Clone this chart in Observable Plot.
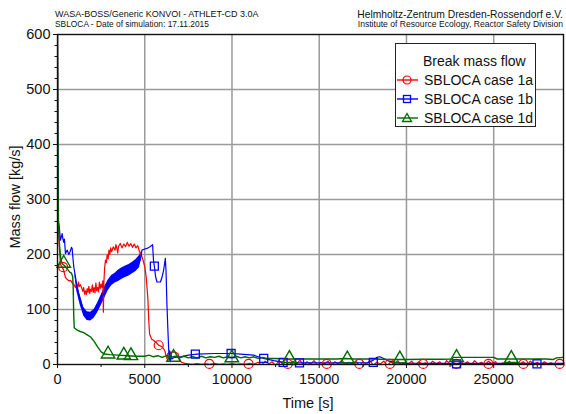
<!DOCTYPE html>
<html>
<head>
<meta charset="utf-8">
<script src="https://cdn.jsdelivr.net/npm/d3@7"></script>
<script src="https://cdn.jsdelivr.net/npm/@observablehq/plot@0.6"></script>
<style>
  body { margin: 0; background: #fff; }
  #wrap { position: relative; width: 566px; height: 414px; font-family: "Liberation Sans", Arial, sans-serif; color: #111; }
  .hdr { position: absolute; white-space: nowrap; line-height: 1; }
  #legend { position: absolute; left: 395px; top: 43px; width: 139px; height: 82px; border: 1.3px solid #222; background: #fff; font-size: 14px; }
  #legend .row { position: absolute; left: 0; height: 18px; white-space: nowrap; }
  #legend svg { position: absolute; left: 0; top: 0; }
  #legend span { position: absolute; left: 28px; top: 1px; }
</style>
</head>
<body>
<div id="wrap">
  <div class="hdr" style="left:55px; top:10px; font-size:9px;">WASA-BOSS/Generic KONVOI - ATHLET-CD 3.0A</div>
  <div class="hdr" style="left:55px; top:20px; font-size:8.4px;">SBLOCA - Date of simulation: 17.11.2015</div>
  <div class="hdr" style="right:3px; top:10px; font-size:10.3px;">Helmholtz-Zentrum Dresden-Rossendorf e.V.</div>
  <div class="hdr" style="right:3px; top:20px; font-size:8.6px;">Institute of Resource Ecology, Reactor Safety Division</div>
  <div id="chart"></div>
  <div class="hdr" id="xtitle" style="left:308px; top:396px; font-size:14.5px; transform:translateX(-50%);">Time [s]</div>
  <div class="hdr" id="ytitle" style="left:15px; top:197px; font-size:14.5px; transform:translate(-50%,-50%) rotate(-90deg);">Mass flow [kg/s]</div>
  <div id="legend"></div>
</div>
<script>
// ---------- data ----------
const seriesNames = ["SBLOCA case 1a", "SBLOCA case 1b", "SBLOCA case 1d"];
const seriesColors = ["#ff0000", "#0000ff", "#006a00"];
const legendTitle = "Break mass flow";

const xTicks = [0, 5000, 10000, 15000, 20000, 25000];
const xMinorTicks = [2500, 7500, 12500, 17500, 22500, 27500];
const yTicks = [0, 100, 200, 300, 400, 500, 600];
const yMinorTicks = [20,40,60,80,120,140,160,180,220,240,260,280,320,340,360,380,420,440,460,480,520,540,560,580];

// case 1a (red): [time s, mass flow kg/s]
const case1a = [
  [0,600],[20,420],[50,260],[100,215],[170,182],[250,178],[350,172],[455,158],[550,155],[650,152],[750,153],[850,148],[950,145],[1030,140],
  [1100,146],[1150,138],[1200,150],[1250,142],[1316,145],[1400,138],[1450,133],[1500,140],[1550,128],[1600,134],[1650,127],[1700,138],
  [1750,131],[1800,142],[1850,129],[1900,137],[1950,133],[2000,145],[2050,131],[2100,140],[2150,130],[2200,148],[2250,134],[2300,140],
  [2350,132],[2400,150],[2450,138],[2500,146],[2550,140],[2600,152],[2630,95],[2660,150],[2700,175],[2750,190],[2800,185],[2850,200],
  [2900,192],[2950,208],[3000,200],[3050,212],[3100,205],[3200,214],[3300,208],[3350,218],[3400,212],[3450,203],[3500,215],[3600,220],
  [3700,212],[3800,219],[3900,214],[4000,222],[4100,215],[4200,220],[4300,213],[4400,219],[4500,212],[4600,216],[4700,205],[4800,200],
  [4900,190],[5000,178],[5080,160],[5130,140],[5180,120],[5230,80],[5280,55],[5400,46],[5500,44],[5650,40],[5800,35],[5950,33],[6050,30],
  [6150,25],[6230,15],[6280,10],[6320,20],[6450,22],[6700,23],[6900,20],[7000,10],[7100,4],[7300,2],
  [7500,1],[7750,0.5],[8000,1.5],[8250,0.5],[8500,1],[8750,0.5],[9000,2],[9250,0.5],[9500,1],[9750,0.5],[10000,1.5],[10250,0.5],
  [10500,1],[10750,0.5],[11000,2],[11250,0.5],[11500,4],[11700,-1],[11900,6],[12100,1],[12300,5],[12500,-2],[12700,7],[12900,1],
  [13100,4],[13300,-1],[13500,6],[13700,1],[13900,8],[14100,-2],[14300,5],[14500,1],[14700,7],[14900,-1],[15100,4],[15300,1],
  [15500,6],[15700,-2],[15900,5],[16100,1],[16300,8],[16500,-1],[16700,4],[16900,1],[17100,6],[17300,-2],[17500,5],[17700,1],
  [17900,7],[18100,-1],[18300,4],[18500,1],[18700,6],[18900,-2],[19100,5],[19300,1],[19500,7],[19700,-1],[19900,4],[20100,1],
  [20300,6],[20500,-2],[20700,5],[20900,1],[21100,3],[21300,-1],[21500,6],[21700,1],[21900,5],[22100,-2],[22300,7],[22500,1],
  [22700,4],[22900,-1],[23100,6],[23300,1],[23500,5],[23700,-2],[23900,7],[24100,1],[24300,4],[24500,-1],[24700,6],[24900,1],
  [25100,5],[25300,-2],[25500,3],[25700,1],[25900,6],[26100,-1],[26300,4],[26500,1],[26700,5],[26900,-2],[27100,6],[27300,1],
  [27500,4],[27700,-1],[27900,5],[28100,1],[28300,3],[28500,-1],[28700,2],[29000,1]
];
// case 1b (blue)
const case1b = [
  [0,600],[20,400],[50,262],[100,250],[170,226],[270,238],[300,230],[360,222],[400,228],[455,202],[555,208],[650,200],[720,205],
  [800,213],[840,211],[880,195],[935,177],[1000,165],[1125,141],[1200,130],[1316,117],[1450,102],[1600,93],[1750,88],[1890,87],
  [2000,89],[2170,94],[2300,104],[2460,117],[2600,126],[2750,135],[2900,145],[3050,153],[3220,159],[3500,163],[3790,168],[4100,172],
  [4370,177],[4600,184],[4750,190],[4800,200],[4840,208],[5000,210],[5130,211],[5300,214],[5450,218],[5500,190],[5550,179],[5620,160],
  [5700,150],[5900,150],[6000,160],[6080,171],[6180,193],[6220,170],[6270,111],[6330,60],[6370,30],[6400,8],[6430,25],[6470,5],
  [6500,20],[6550,10],[6700,13],[7040,14],[7500,17],[7990,19],[9000,20],[9990,20],[10500,19],[11240,17],[11800,11],[12400,7],
  [12950,4],[13500,3],[14000,3],[15000,3],[16000,3],[17000,3],[17800,3.5],[18100,8],[18300,13],[18480,14],[18700,11],[19000,6],
  [19500,3],[20000,2.5],[22000,2],[25000,2],[29000,2]
];
// case 1b noisy band (time, low, high)
const case1bBandT  = [1000,1100,1300,1500,1700,1900,2100,2300,2500,2700,2900,3100,3300,3500,3700,3900,4100,4300,4500,4700,4800];
const case1bBandLo = [ 160, 134, 108,  88,  80,  79,  84,  94, 107, 120, 134, 143, 148, 151, 155, 158, 161, 165, 169, 176, 190];
const case1bBandHi = [ 168, 150, 126, 104,  96,  95, 100, 112, 126, 141, 153, 162, 166, 172, 176, 179, 182, 186, 191, 198, 206];
// case 1d (green)
const case1d = [
  [0,600],[20,450],[40,300],[60,250],[120,215],[200,190],[300,182],[400,180],[500,176],[600,172],[700,168],[800,166],[870,160],
  [900,140],[930,90],[960,67],[1100,63],[1300,60],[1500,58],[1700,54],[1900,50],[2100,42],[2300,32],[2500,23],[2700,19],[3000,18],
  [3500,17],[4000,16],[4500,15],[5000,15],[5250,17],[5500,14],[5750,16],[6000,13],[6250,16],[6500,13],[6750,15],[7000,12],[7250,15],
  [7500,12],[7750,14],[8000,12],[8250,15],[8500,12],[8750,14],[9000,13],[9250,15],[9500,12],[9750,14],[10000,12],[10250,15],
  [10500,12],[10750,14],[11000,12],[11250,14],[11500,11],[11750,13],[12000,11],[12500,11],[13000,10],[14000,10],[15000,10],
  [16000,10],[16500,11],[17000,10],[18000,10],[19000,9],[20000,9],[21000,9.5],[22000,9.5],[22600,10],[22700,13],[24000,13],
  [25000,13],[25200,10],[26000,10],[27000,10],[28000,10],[28400,9],[28600,12],[29000,13]
];
// markers
const markers1a = [[325,177],[5800,35],[8700,1],[10950,1],[13200,1],[15430,1],[17300,1],[19050,1],[20960,1],[22850,1],[24700,1],[26700,1],[28780,1]];
const markers1b = [[5550,179],[7900,19],[9950,20],[11820,11],[12930,4],[13870,3],[18100,4],[22870,1],[27480,1]];
const markers1d = [[360,184],[2900,19],[3800,17],[4210,16],[6650,13],[9990,12],[13290,11],[16610,10],[19620,10],[22870,13],[26010,11]];

// ---------- build ----------
const toRows = arr => arr.map(([t, v]) => ({t, v}));
const red = toRows(case1a), blue = toRows(case1b), green = toRows(case1d);
const band = case1bBandT.map((t, i) => ({t, lo: case1bBandLo[i], hi: case1bBandHi[i]}));
const mRed = toRows(markers1a), mBlue = toRows(markers1b), mGreen = toRows(markers1d);

const chart = Plot.plot({
  width: 566, height: 414,
  marginLeft: 57, marginRight: 3, marginTop: 34, marginBottom: 50,
  x: {domain: [0, 29000]},
  y: {domain: [0, 600]},
  style: {fontFamily: "'Liberation Sans', Arial, sans-serif", fontSize: "14.5px", color: "#111", background: "transparent"},
  marks: [
    Plot.gridX({ticks: xTicks.filter(d => d > 0), stroke: "#9a9a9a", strokeOpacity: 1, strokeWidth: 1.5}),
    Plot.gridY({ticks: yTicks.filter(d => d > 0 && d < 600), stroke: "#9a9a9a", strokeOpacity: 1, strokeWidth: 1.5}),
    Plot.areaY(band, {x: "t", y1: "lo", y2: "hi", fill: seriesColors[1], fillOpacity: 1, clip: true}),
    Plot.line(red, {x: "t", y: "v", stroke: seriesColors[0], strokeWidth: 1.2, clip: true}),
    Plot.line(blue, {x: "t", y: "v", stroke: seriesColors[1], strokeWidth: 1.2, clip: true}),
    Plot.line(green, {x: "t", y: "v", stroke: seriesColors[2], strokeWidth: 1.4, clip: true}),
    Plot.dot(mRed, {x: "t", y: "v", symbol: "circle", r: 4.5, stroke: seriesColors[0], fill: "none", strokeWidth: 1.2}),
    Plot.dot(mBlue, {x: "t", y: "v", symbol: "square", r: 4.5, stroke: seriesColors[1], fill: "none", strokeWidth: 1.3}),
    Plot.dot(mGreen, {x: "t", y: "v", symbol: "triangle", r: 5, stroke: seriesColors[2], fill: "none", strokeWidth: 1.4}),
    Plot.axisX({ticks: xTicks, tickSize: 4, tickPadding: 5, label: null, tickFormat: d => String(d)}),
    Plot.axisX({ticks: xMinorTicks, tickSize: 3, label: null, tickFormat: () => ""}),
    Plot.axisY({ticks: yTicks, tickSize: 4, tickPadding: 3, label: null, tickFormat: d => String(d)}),
    Plot.axisY({ticks: yMinorTicks, tickSize: 2.5, label: null, tickFormat: () => ""}),
    Plot.frame({stroke: "#111", strokeWidth: 1.4})
  ]
});
document.getElementById("chart").appendChild(chart);

// legend
const leg = document.getElementById("legend");
const title = document.createElement("div");
title.textContent = legendTitle;
title.style.cssText = "position:absolute; left:27px; top:9px; white-space:nowrap;";
leg.appendChild(title);
const symbols = ["circle", "square", "triangle"];
seriesNames.forEach((name, i) => {
  const row = document.createElement("div");
  row.className = "row";
  row.style.top = (27 + i * 19) + "px";
  row.style.width = "138px";
  const c = seriesColors[i];
  let m;
  if (symbols[i] === "circle") m = `<circle cx="11" cy="9" r="4" fill="none" stroke="${c}" stroke-width="1.2"/>`;
  else if (symbols[i] === "square") m = `<rect x="7.5" y="5.5" width="7" height="7" fill="none" stroke="${c}" stroke-width="1.3"/>`;
  else m = `<path d="M11,4.5 L15.5,12.5 L6.5,12.5 Z" fill="none" stroke="${c}" stroke-width="1.3"/>`;
  row.innerHTML = `<svg width="24" height="18"><line x1="1" y1="9" x2="22" y2="9" stroke="${c}" stroke-width="1.4"/>${m}</svg><span>${name}</span>`;
  leg.appendChild(row);
});
</script>
</body>
</html>
